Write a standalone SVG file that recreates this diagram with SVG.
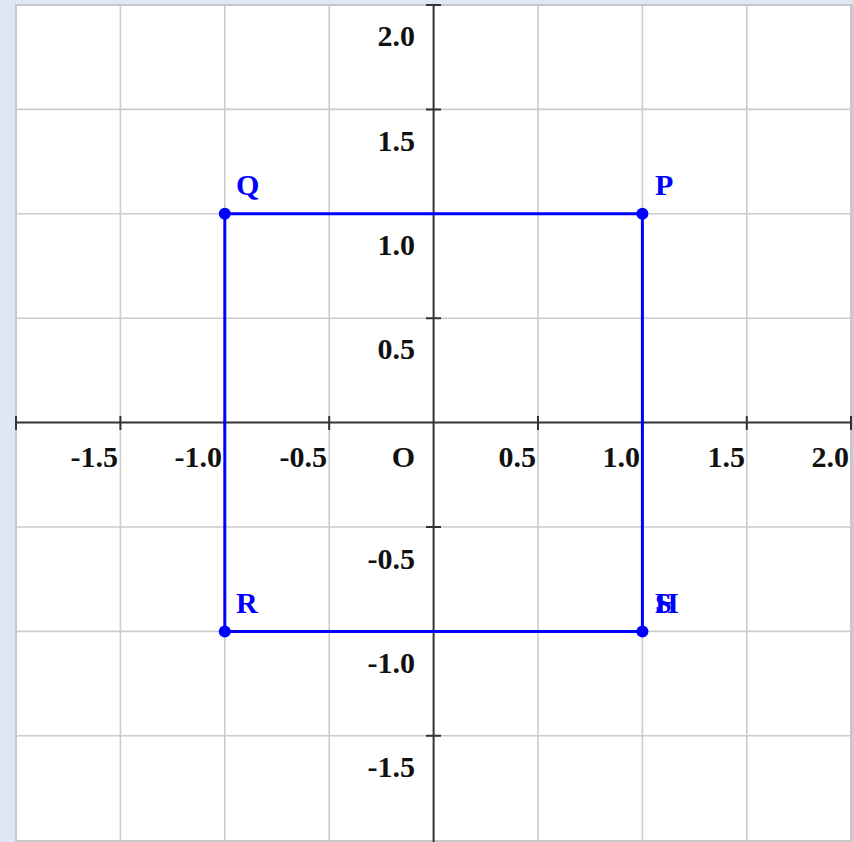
<svg xmlns="http://www.w3.org/2000/svg" width="853" height="842" viewBox="0 0 853 842">
<style>
.grid{stroke:#cccccc;stroke-width:1.6;fill:none}
.axis{stroke:#333333;stroke-width:2;fill:none}
.num{font-family:"Liberation Serif","Times New Roman",serif;font-weight:bold;font-size:30px;fill:#111;text-anchor:end}
.lbl{font-family:"Liberation Serif","Times New Roman",serif;font-weight:bold;font-size:30px;fill:#0000ff}
.edge{stroke:#0000ff;stroke-width:3;fill:none}
.dot{fill:#0000ff}
</style>
<rect x="0" y="0" width="853" height="842" fill="#dde8f4"/>
<rect x="16" y="5" width="835" height="836" fill="#ffffff" stroke="#c8c8c8" stroke-width="2"/>
<rect x="851" y="4" width="2" height="838" fill="#c8c8c8"/>
<g id="grid" class="grid">
<path d="M120.4 5V842M224.8 5V842M329.2 5V842M538 5V842M642.4 5V842M746.8 5V842M16 109.4H851M16 213.8H851M16 318.2H851M16 527H851M16 631.4H851M16 735.8H851"/>
</g>
<g id="axes" class="axis">
<path d="M16 422.6H851M433.6 5V842"/>
<path d="M16 416V430M120.4 416V430M224.8 416V430M329.2 416V430M538 416V430M642.4 416V430M746.8 416V430M851 416V430"/>
<path d="M426 5H441M426 109.4H441M426 213.8H441M426 318.2H441M426 527H441M426 631.4H441M426 735.8H441"/>
</g>
<g id="tick-labels">
<text class="num" x="118" y="467">-1.5</text>
<text class="num" x="222" y="467">-1.0</text>
<text class="num" x="327" y="467">-0.5</text>
<text class="num" x="415" y="467">O</text>
<text class="num" x="536" y="467">0.5</text>
<text class="num" x="640" y="467">1.0</text>
<text class="num" x="745" y="467">1.5</text>
<text class="num" x="849" y="467">2.0</text>
<text class="num" x="415" y="46">2.0</text>
<text class="num" x="415" y="151">1.5</text>
<text class="num" x="415" y="255">1.0</text>
<text class="num" x="415" y="359">0.5</text>
<text class="num" x="415" y="569">-0.5</text>
<text class="num" x="415" y="673">-1.0</text>
<text class="num" x="415" y="777">-1.5</text>
</g>
<g id="connectors">
<path class="edge" d="M642.4 213.8H224.8V631.4H642.4Z"/>
</g>
<g id="P"><circle class="dot" cx="642.4" cy="213.8" r="6"/><text class="lbl" x="655" y="195">P</text></g>
<g id="Q"><circle class="dot" cx="224.8" cy="213.8" r="6"/><text class="lbl" x="236" y="195">Q</text></g>
<g id="R"><circle class="dot" cx="224.8" cy="631.4" r="6"/><text class="lbl" x="236" y="613">R</text></g>
<g id="S"><circle class="dot" cx="642.4" cy="631.4" r="6"/><text class="lbl" x="655" y="613">S</text></g>
<g id="H"><text class="lbl" x="655" y="613">H</text></g>
</svg>
